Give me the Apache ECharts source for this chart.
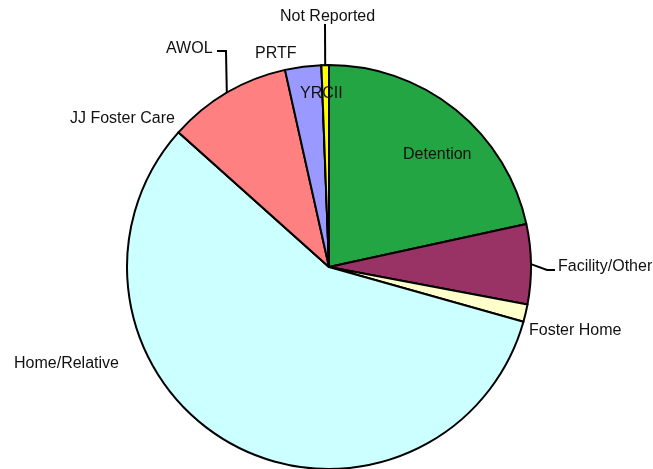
<!DOCTYPE html>
<html>
<head>
<meta charset="utf-8">
<script src="https://cdn.jsdelivr.net/npm/echarts@6/dist/echarts.min.js"></script>
<style>
  html, body { margin: 0; padding: 0; background: #fff; }
  #chart { width: 653px; height: 469px; }
</style>
</head>
<body>
<div id="chart"></div>
<script>
// placement, in clockwise order from 12 o'clock
var names = ['Detention', 'Facility/Other', 'Foster Home', 'Home/Relative', 'JJ Foster Care', 'AWOL', 'PRTF', 'YRCII', 'Not Reported']
var values = [21.6, 6.4, 1.4, 57.3, 0, 9.9, 2.9, 0, 0.6]
var colors = ['#22a542', '#993366', '#ffffcc', '#ccffff', '#ccffff', '#ff8080', '#9999ff', '#ffff00', '#ffff00']

// where each label sits (left edge, vertical middle)
var labelPos = [
    [403, 155], [558, 267], [529, 331], [14, 364], [70, 119],
    [166, 49], [255, 54], [300, 94], [280, 17]
]
// bends of the leader lines after the slice edge
var leaderBends = {
    1: [[547, 270], [555, 270]],
    5: [[226, 51], [217, 51]],
    8: [[325, 24]]
}

var data = names.map(function (n, i) {
    return {
        name: n,
        value: values[i],
        itemStyle: { color: colors[i] },
        labelLine: { show: !!leaderBends[i] }
    }
})

var chart = echarts.init(document.getElementById('chart'))
chart.setOption({
    animation: false,
    series: [{
        type: 'pie',
        center: [329, 267],
        radius: 202,
        startAngle: 90,
        clockwise: true,
        data: data,
        itemStyle: { borderColor: '#000', borderWidth: 2 },
        label: {
            show: true,
            position: 'outside',
            formatter: '{b}',
            color: '#111',
            fontFamily: 'Liberation Sans, Arial, sans-serif',
            fontSize: 16,
            overflow: 'none'
        },
        labelLine: {
            show: true,
            length: 10,
            length2: 10,
            lineStyle: { color: '#000', width: 2 }
        },
        labelLayout: function (p) {
            var pos = labelPos[p.dataIndex]
            var res = { x: pos[0], y: pos[1], align: 'left', verticalAlign: 'middle' }
            var bends = leaderBends[p.dataIndex]
            if (bends && p.labelLinePoints) {
                res.labelLinePoints = [p.labelLinePoints[0]].concat(bends)
            }
            return res
        }
    }]
})
</script>
</body>
</html>
